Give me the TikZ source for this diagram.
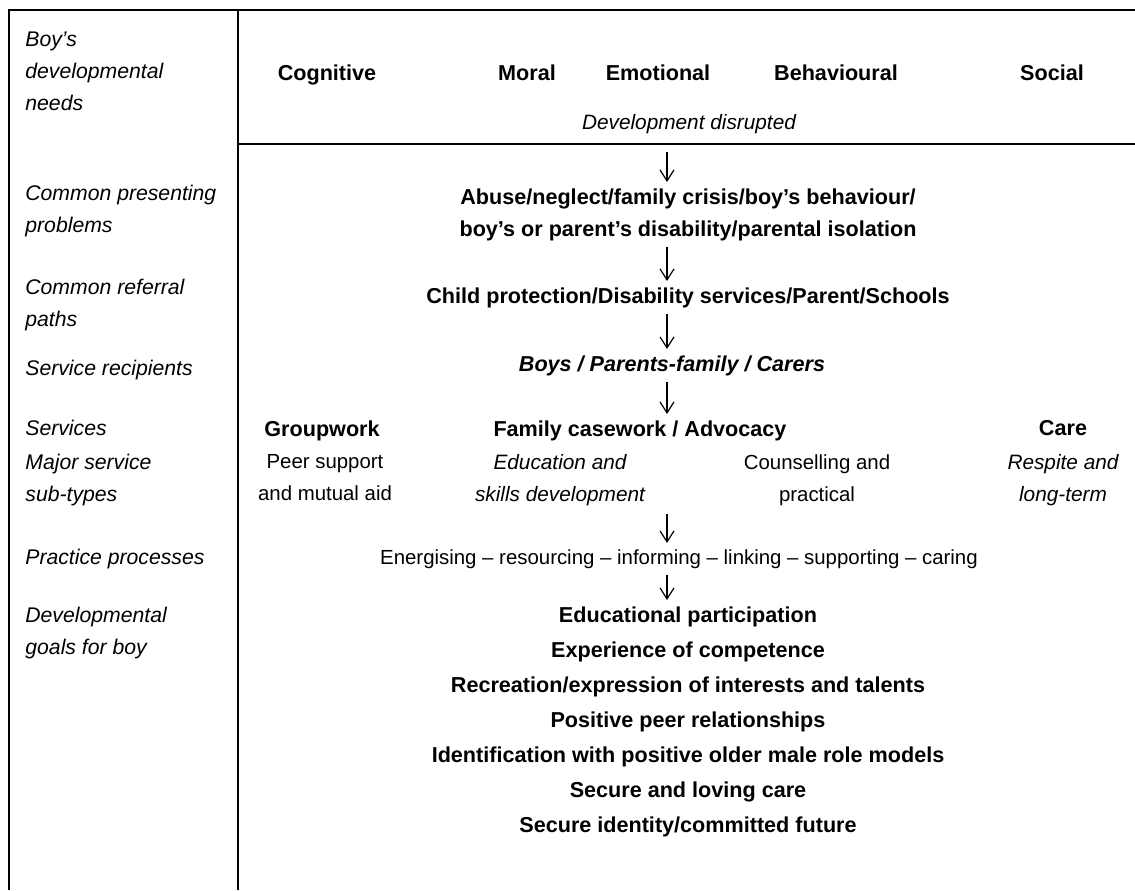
\documentclass[tikz,border=0pt]{standalone}
\usepackage{fontspec}
\setmainfont{Liberation Sans}
\usetikzlibrary{arrows.meta}

\tikzset{
  rowlab/.style={font=\fontsize{10.6}{15.8}\selectfont\itshape, align=left, anchor=north west, inner sep=0pt},
  head/.style={font=\fontsize{10.8}{16}\selectfont\bfseries, align=center, anchor=north, inner sep=0pt},
  plain/.style={font=\fontsize{10.2}{16}\selectfont, align=center, anchor=north, inner sep=0pt},
  slant/.style={font=\fontsize{10.4}{16}\selectfont\itshape, align=center, anchor=north, inner sep=0pt},
  bslant/.style={font=\fontsize{10.8}{16}\selectfont\bfseries\itshape, align=center, anchor=north, inner sep=0pt},
  arr/.style={-{Straight Barb[length=5.5pt,width=7pt]}, line width=0.6pt},
  rule/.style={line width=1pt}
}

\begin{document}
\begin{tikzpicture}[x=0.5pt,y=-0.5pt]
    \useasboundingbox (0,0) rectangle (1135,890);

    % frame
    \draw[rule] (1135,10) -- (9,10) -- (9,890);
    \draw[rule] (238,10) -- (238,890);
    \draw[rule] (238,144) -- (1135,144);
    \coordinate (hline) at (238,144);
    \coordinate (ax) at (667,0);

    % row labels
    \node[rowlab] (lneeds) at (25,32) {Boy's\\developmental\\needs};
    \node[rowlab] (lprob) at (25,185) {Common presenting\\problems};
    \node[rowlab] (lref) at (25,279) {Common referral\\paths};
    \node[rowlab] (lrec) at (25,360) {Service recipients};
    \node[rowlab] (lserv) at (25,420) {Services};
    \node[rowlab] (lsub) at (25,454) {Major service\\sub-types};
    \node[rowlab] (lproc) at (25,549) {Practice processes};
    \node[rowlab] (lgoal) at (25,607) {Developmental\\goals for boy};

    % needs
    \node[head] (cog) at (327,64) {Cognitive};
    \node[head] (mor) at (527,64) {Moral};
    \node[head] (emo) at (658,64) {Emotional};
    \node[head] (beh) at (836,64) {Behavioural};
    \node[head] (soc) at (1052,64) {Social};
    \node[slant] (disrupt) at (689,114) {Development disrupted};

    % problems, referral, recipients
    \node[head] (prob) at (688,188) {Abuse/neglect/family crisis/boy's behaviour/\\boy's or parent's disability/parental isolation};
    \node[head] (refer) at (688,287) {Child protection/Disability services/Parent/Schools};
    \node[bslant] (recip) at (672,355) {Boys / Parents-family / Carers};

    % services
    \node[head] (group) at (322,420) {Groupwork};
    \node[head] (family) at (640,420) {Family casework / Advocacy};
    \node[head] (care) at (1063,420) {Care};
    \node[plain] (peer) at (325,454) {Peer support\\and mutual aid};
    \node[slant] (edu) at (560,454) {Education and\\skills development};
    \node[plain] (couns) at (817,454) {Counselling and\\practical};
    \node[slant] (resp) at (1063,454) {Respite and\\long-term};

    % processes and goals
    \node[plain] (proc) at (679,549) {Energising -- resourcing -- informing -- linking -- supporting -- caring};
    \node[head, font=\fontsize{10.8}{17.5}\selectfont\bfseries] (goals) at (688,606) {Educational participation\\Experience of competence\\Recreation/expression of interests and talents\\Positive peer relationships\\Identification with positive older male role models\\Secure and loving care\\Secure identity/committed future};

    % arrows
    \draw[arr, shorten >=3pt] (hline -| ax) ++(0,8) -- (prob.north -| ax);
    \draw[arr, shorten <=3pt, shorten >=3pt] (prob.south -| ax) -- (refer.north -| ax);
    \draw[arr, shorten <=3pt, shorten >=3pt] (refer.south -| ax) -- (recip.north -| ax);
    \draw[arr, shorten <=3pt, shorten >=3pt] (recip.south -| ax) -- (family.north -| ax);
    \draw[arr, shorten <=4pt, shorten >=3pt] (edu.south -| ax) -- (proc.north -| ax);
    \draw[arr, shorten <=3pt, shorten >=3pt] (proc.south -| ax) -- (goals.north -| ax);
\end{tikzpicture}
\end{document}
